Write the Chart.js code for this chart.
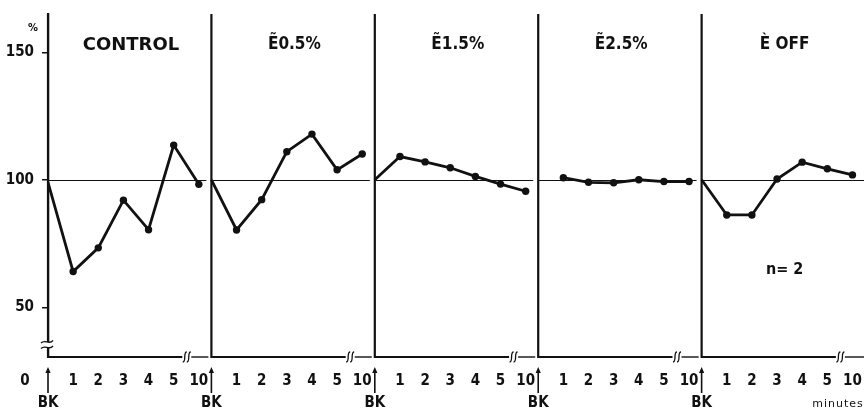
<!DOCTYPE html>
<html><head><meta charset="utf-8">
<script src="https://cdn.jsdelivr.net/npm/chart.js@4.4.1/dist/chart.umd.min.js"></script>
<style>html,body{margin:0;padding:0;background:#fff;}#wrap{position:relative;width:864px;height:412px;}canvas{display:block}</style>
</head><body><div id="wrap"><canvas id="c" width="864" height="412"></canvas></div>
<script>
// ---- data ----
const categories = ['BK', '1', '2', '3', '4', '5', '10'];
const panelTitles = ['CONTROL', 'Ẽ0.5%', 'Ẽ1.5%', 'Ẽ2.5%', 'È OFF'];
const controlValues = [99, 64, 73.3, 92, 80.4, 113.6, 98.2];
const e05Values = [100, 80.3, 92.2, 111, 117.9, 103.9, 110.1];
const e15Values = [100, 109.1, 107, 104.7, 101.3, 98.3, 95.5];
const e25Values = [null, 100.8, 99, 98.8, 100, 99.3, 99.3];
const eOffValues = [100, 86.2, 86.2, 100.3, 106.9, 104.3, 101.9];
const yTicks = [50, 100, 150];
const referenceLevel = 100;
const sampleNote = 'n= 2';
const xUnitLabel = 'minutes';
const yUnitLabel = '%';
const originLabel = '0';

// ---- layout / style ----
const panelSeries = [controlValues, e05Values, e15Values, e25Values, eOffValues];
const SPAN = 6.5;
const ink = '#111';
const numFont = "'Liberation Sans Narrow','DejaVu Sans Condensed','Roboto Condensed',sans-serif";
const wideFont = "'DejaVu Sans','Liberation Sans',sans-serif";

const tickPositions = [];
const tickLabelByPos = {};
panelSeries.forEach((s, p) => categories.forEach((c, i) => {
  const v = p * SPAN + i;
  tickPositions.push(v);
  tickLabelByPos[v.toFixed(2)] = c === 'BK' ? ['', 'BK'] : c;
}));

const datasets = panelSeries.map((vals, p) => ({
  label: panelTitles[p],
  data: vals.map((v, i) => ({ x: p * SPAN + i, y: v })),
  borderColor: ink,
  backgroundColor: ink,
  borderWidth: 2.8,
  pointRadius: vals.map((v, i) => (i === 0 ? 0 : 3.7)),
  pointBackgroundColor: ink,
  pointBorderWidth: 0,
  tension: 0,
  spanGaps: false
}));

function line(ctx, x1, y1, x2, y2, w) {
  ctx.lineWidth = w; ctx.beginPath(); ctx.moveTo(x1, y1); ctx.lineTo(x2, y2); ctx.stroke();
}
function sMark(ctx, x, y) {
  ctx.lineWidth = 1.3;
  ctx.beginPath();
  ctx.moveTo(x - 2, y + 5);
  ctx.bezierCurveTo(x + 2, y + 5, x - 2, y - 5, x + 2, y - 5);
  ctx.stroke();
}
const decor = {
  id: 'decor',
  afterDraw(chart) {
    const { ctx, chartArea: ca, scales: { x, y } } = chart;
    ctx.save();
    ctx.strokeStyle = ink; ctx.fillStyle = ink;
    const y100 = Math.round(y.getPixelForValue(referenceLevel)) + 0.5;
    const base = ca.bottom, top = ca.top;
    const n = panelTitles.length;
    for (let p = 0; p < n; p++) {
      const ax = x.getPixelForValue(p * SPAN);
      const last = p === n - 1;
      const nextAx = last ? chart.width : x.getPixelForValue((p + 1) * SPAN);
      line(ctx, ax, top, ax, base + 1, 2.2);
      line(ctx, ax, y100, last ? chart.width : nextAx - 5, y100, 1);
      const bx = x.getPixelForValue(p * SPAN + 5.5);
      line(ctx, ax, base, bx - 4, base, 2);
      sMark(ctx, bx - 1.5, base);
      sMark(ctx, bx + 2.5, base);
      line(ctx, bx + 5, base, last ? chart.width : nextAx - 3, base, 1.4);
      // BK arrow
      line(ctx, ax, 393, ax, 370, 1.6);
      ctx.beginPath(); ctx.moveTo(ax, 367); ctx.lineTo(ax - 2.6, 373); ctx.lineTo(ax + 2.6, 373); ctx.closePath(); ctx.fill();
      // title
      const tx = x.getPixelForValue(p * SPAN + 3.3);
      ctx.textAlign = 'center'; ctx.textBaseline = 'middle';
      ctx.font = p === 0 ? `bold 18px ${wideFont}` : `bold 17px ${numFont}`;
      ctx.fillText(panelTitles[p], tx, 45);
    }
    // y-axis break
    const bxY = x.getPixelForValue(0);
    ctx.fillStyle = '#fff'; ctx.fillRect(bxY - 2, 342, 4, 5); ctx.fillStyle = ink;
    [341.5, 347].forEach(yy => {
      ctx.lineWidth = 1.3; ctx.beginPath();
      ctx.moveTo(bxY - 7, yy + 1.5);
      ctx.bezierCurveTo(bxY - 3, yy - 3, bxY + 1, yy + 4, bxY + 5, yy - 1);
      ctx.stroke();
    });
    // texts
    ctx.textAlign = 'center'; ctx.textBaseline = 'middle';
    ctx.font = `bold 15px ${numFont}`;
    ctx.fillText(originLabel, 25, 381);
    ctx.font = `bold 11px ${numFont}`;
    ctx.fillText(yUnitLabel, 33, 28);
    ctx.font = `bold 16px ${numFont}`;
    ctx.fillText(sampleNote, x.getPixelForValue(4 * SPAN + 3.3), 270);
    ctx.font = `11px ${wideFont}`;
    if ('letterSpacing' in ctx) ctx.letterSpacing = '1px';
    ctx.fillText(xUnitLabel, 838, 404);
    ctx.restore();
  }
};

new Chart(document.getElementById('c'), {
  type: 'line',
  data: { datasets },
  plugins: [decor],
  options: {
    responsive: false,
    devicePixelRatio: 1,
    animation: false,
    events: [],
    layout: { padding: { top: 14, right: 4, left: 0, bottom: 0 } },
    plugins: { legend: { display: false }, tooltip: { enabled: false } },
    scales: {
      x: {
        type: 'linear',
        min: 0,
        max: 4 * SPAN + 6.3,
        afterBuildTicks(scale) { scale.ticks = tickPositions.map(v => ({ value: v })); },
        afterFit(scale) { scale.height = 55; scale.paddingLeft = 0; scale.paddingRight = 0; },
        grid: { display: false, drawTicks: false },
        border: { display: false },
        ticks: {
          autoSkip: false, maxRotation: 0, minRotation: 0, padding: 13, color: ink,
          font: { family: numFont, size: 15, weight: 'bold', lineHeight: 1.45 },
          callback: (v) => tickLabelByPos[Number(v).toFixed(2)] ?? ''
        }
      },
      y: {
        type: 'linear',
        min: 30.5,
        max: 165,
        afterBuildTicks(scale) { scale.ticks = yTicks.map(v => ({ value: v })); },
        afterFit(scale) { scale.width = 48; scale.paddingTop = 0; scale.paddingBottom = 0; },
        grid: { drawOnChartArea: false, drawTicks: true, tickLength: 6, color: ink, lineWidth: 1.5 },
        border: { display: true, color: ink, width: 2.2 },
        ticks: { padding: 8, color: ink, font: { family: numFont, size: 15, weight: 'bold' } }
      }
    }
  }
});
</script></body></html>
